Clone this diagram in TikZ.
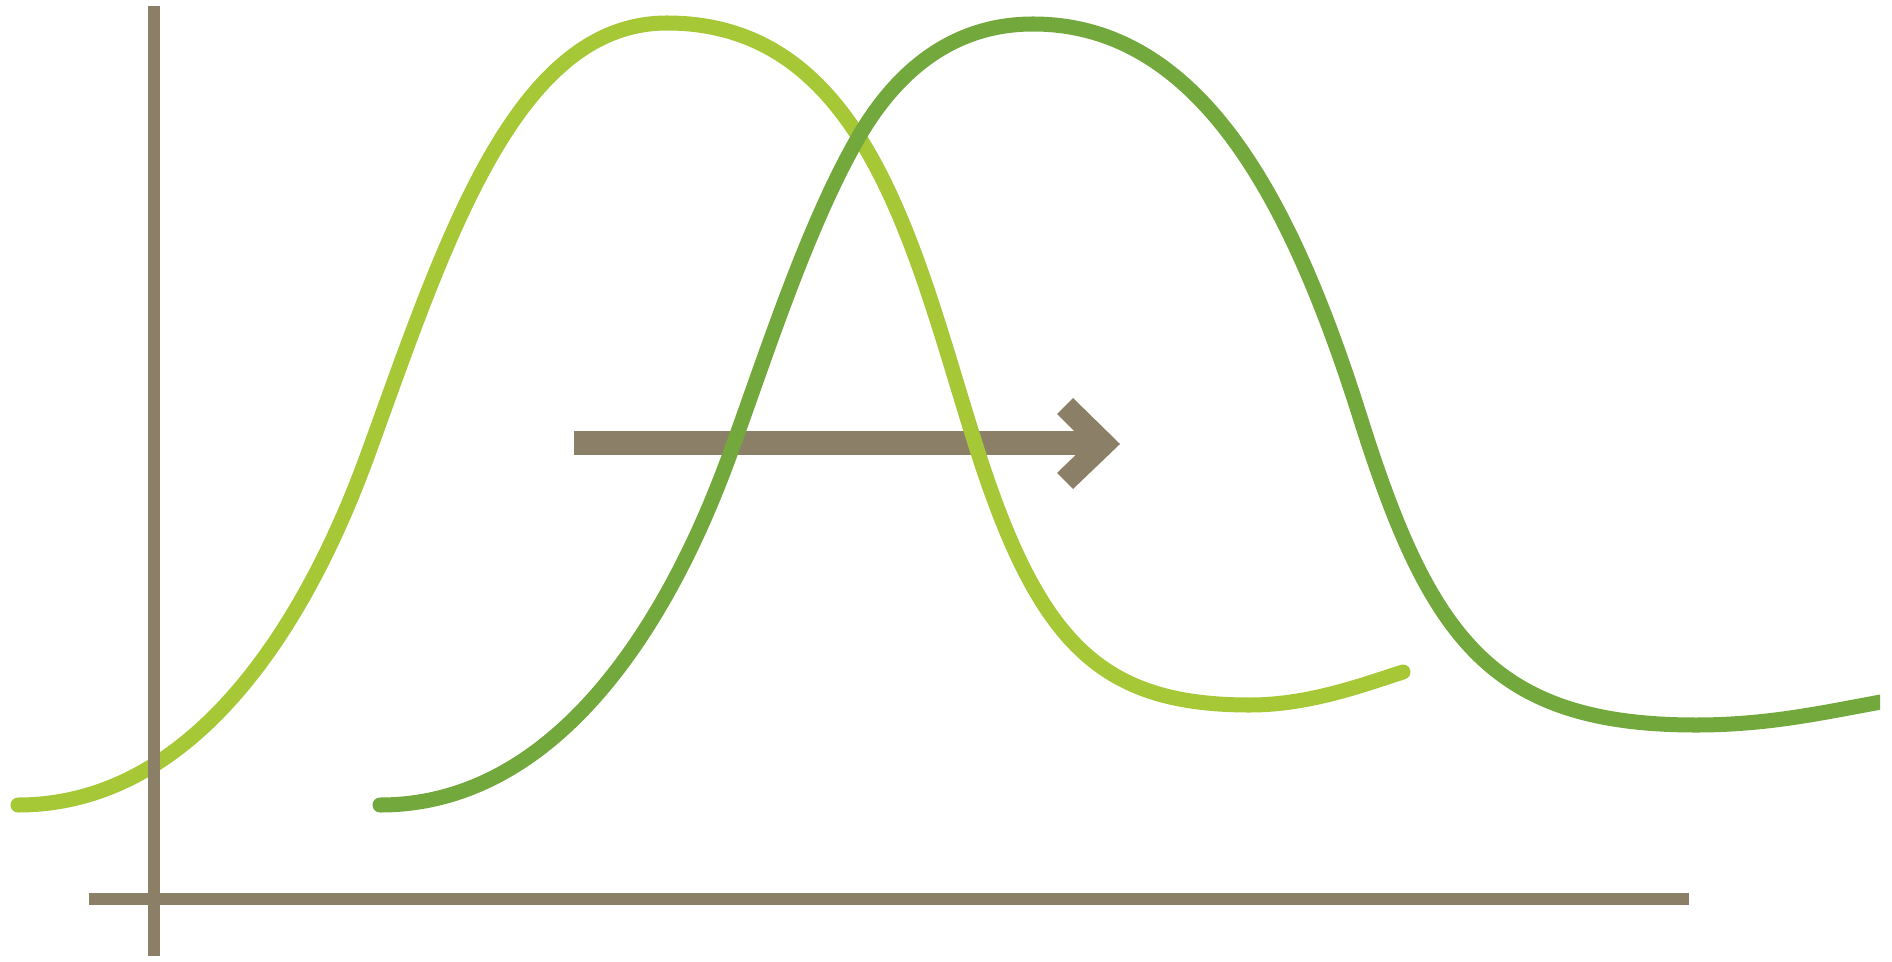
\documentclass[tikz,border=0pt]{standalone}
\usepackage{tikz}
\definecolor{taupe}{HTML}{8C7F68}
\definecolor{lightgreen}{HTML}{A6C837}
\definecolor{darkgreen}{HTML}{72A83C}

\begin{document}
\begin{tikzpicture}[x=0.01cm,y=-0.01cm,
    axisline/.style={taupe,line width=0.12cm},
    curveline/.style={line width=0.15cm,line cap=round}]
  \useasboundingbox (0,0) rectangle (1892,961);
  % shift arrow
  \coordinate (shaftstart) at (574,443);
  \coordinate (shaftend) at (1090,443);
  \draw[taupe,line width=0.24cm] (shaftstart)--(shaftend);
  \fill[taupe] (1073,398)--(1120,444)--(1073,489)--(1057,473)--(1087,444)--(1057,414)--cycle;
  % first curve
  \draw[lightgreen,curveline] (18,805) .. controls (240,805) and (345,518) .. (372,443)
    .. controls (447,236) and (517,23) .. (667,23)
    .. controls (867,23) and (915,253) .. (975,443)
    .. controls (1038,643) and (1100,705) .. (1250,705)
    .. controls (1310,705) and (1365,684) .. (1403,672);
  % shifted curve
  \begin{scope}
    \clip (0,0) rectangle (1880,961);
    \draw[darkgreen,curveline] (380,805) .. controls (602,805) and (707,518) .. (734,443)
      .. controls (768,349) and (808,225) .. (858,138)
      .. controls (903,60) and (963,24) .. (1033,24)
      .. controls (1203,24) and (1294,208) .. (1360,417)
      .. controls (1429,636) and (1490,725) .. (1696,725)
      .. controls (1780,725) and (1841,708) .. (1910,697);
  \end{scope}
  % axes
  \draw[axisline] (154,6)--(154,956);
  \draw[axisline] (89,899)--(1689,899);
\end{tikzpicture}
\end{document}
